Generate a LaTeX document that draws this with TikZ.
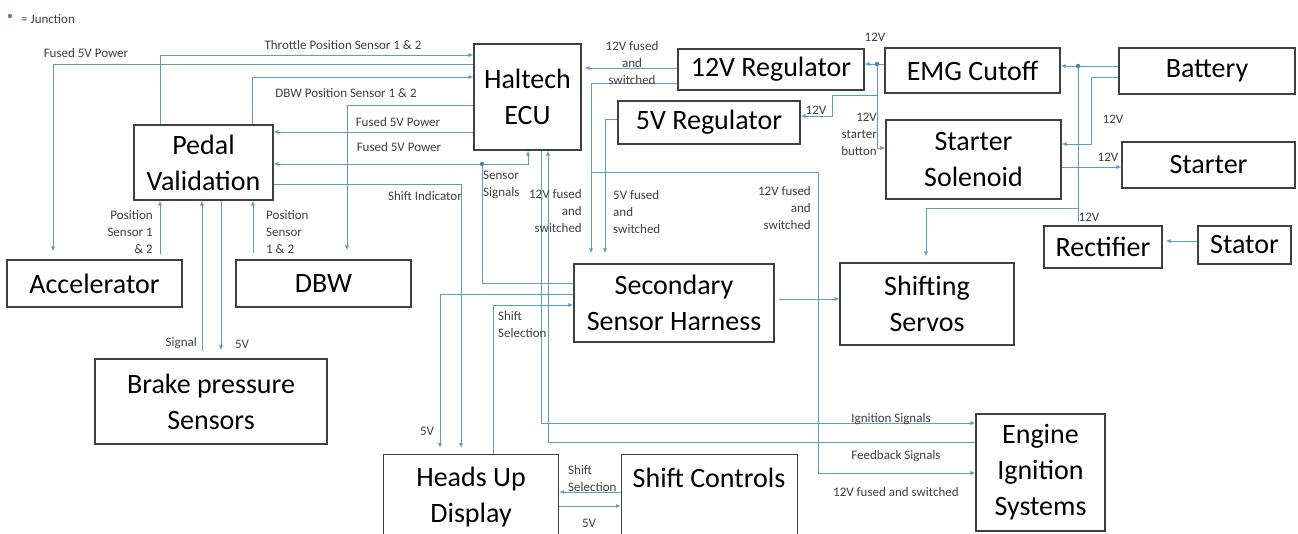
\documentclass[tikz,border=0pt]{standalone}
\usepackage{fontspec}
\setmainfont{Carlito}
\usetikzlibrary{arrows.meta}
\definecolor{wireblue}{HTML}{5B9BD5}
\definecolor{lblgray}{HTML}{404040}
\newcommand\boxfont{\fontsize{28}{36}\selectfont}
\newcommand\lblfont{\fontsize{13}{17}\selectfont}
\begin{document}
\begin{tikzpicture}[x=1pt,y=-1pt,
  blk/.style={draw=black!75, line width=1.1pt, align=center, font=\boxfont, inner sep=0pt},
  btxt/.style={font=\boxfont, inner sep=0pt, align=center},
  wln/.style={draw=wireblue, line width=0.9pt},
  arw/.style={wln, -{Latex[length=5pt,width=4pt]}},
  lt/.style={font=\lblfont, text=lblgray, inner sep=0pt, align=center},
  ltl/.style={lt, align=left, anchor=west},
  ltr/.style={lt, align=right, anchor=east},
  jn/.style={circle, fill=wireblue!85!black, inner sep=0pt, minimum size=4.5pt}]
\useasboundingbox (0,0) rectangle (1298,533);
\clip (0,0) rectangle (1298,533);
\fill[white] (0,0) rectangle (1298,533);

% boxes
\node[blk, minimum width=107pt, minimum height=106pt] (ecu) at (527.5,97) {Haltech\\ECU};
\node[blk, minimum width=186pt, minimum height=41pt] (reg12) at (771,69.5) {12V Regulator};
\node[blk, minimum width=182pt, minimum height=43pt] (reg5) at (709,122.5) {5V Regulator};
\node[blk, minimum width=175pt, minimum height=45pt] (emg) at (972.5,70.5) {EMG Cutoff};
\node[blk, minimum width=176pt, minimum height=46pt] (battery) at (1207,71) {Battery};
\node[blk, minimum width=175pt, minimum height=79pt] (solenoid) at (973.5,159.5) {Starter\\Solenoid};
\node[blk, minimum width=173pt, minimum height=46pt] (starter) at (1208.5,165) {Starter};
\node[blk, minimum width=118pt, minimum height=42pt] (rect) at (1103,247) {Rectifier};
\node[blk, minimum width=93pt, minimum height=38pt] (stator) at (1244.5,245) {Stator};
\node[blk, minimum width=174pt, minimum height=82pt] (servos) at (927,304) {Shifting\\Servos};
\node[blk, minimum width=139pt, minimum height=75pt] (pedal) at (203.5,162.5) {Pedal\\Validation};
\node[blk, minimum width=175pt, minimum height=47pt] (accel) at (94.5,283.5) {Accelerator};
\node[blk, minimum width=175pt, minimum height=47pt] (dbw) at (323.5,283.5) {DBW};
\node[blk, minimum width=200pt, minimum height=78pt] (ssh) at (674,303) {Secondary\\Sensor Harness};
\node[blk, minimum width=232pt, minimum height=85pt] (brake) at (211,401.5) {Brake pressure\\Sensors};
\node[blk, minimum width=175pt, minimum height=85pt, anchor=north west] (hud) at (383,454) {Heads Up\\Display};
\node[blk, minimum width=176pt, minimum height=100pt, anchor=north west] (shift) at (621,454) {};
\node[btxt] (shifttxt) at (709,478) {Shift Controls};
\node[blk, minimum width=129pt, minimum height=117pt] (engine) at (1040.5,472.5) {Engine\\Ignition\\Systems};

% bend / branch points
\coordinate (j1) at (482,164);
\coordinate (j2) at (877,64);
\coordinate (j3) at (1078,66);
\coordinate (b12) at (591,172);
\coordinate (b5) at (877,95);
\coordinate (bsv) at (1078,208);

% connectors
\draw[arw] (pedal.north -| 160,0) |- (ecu.west |- 0,55);
\draw[arw, shorten >=8pt] (ecu.west |- 0,64) -| (accel.north -| 53,0);
\draw[arw] (pedal.north -| 252,0) |- (ecu.west |- 0,77);
\draw[arw, shorten >=9pt] (ecu.west |- 0,105) -| (dbw.north -| 347,0);
\draw[arw] (ecu.west |- 0,132) -- (pedal.east |- 0,132);
\draw[arw] (ssh.west |- 0,283) -| (j1) -| (ecu.south -| 528,0);
\draw[arw] (j1) -- (pedal.east |- j1);
\draw[arw, shorten >=6pt] (pedal.east |- 0,184) -| (hud.north -| 461,0);
\draw[arw, shorten >=6pt] (ssh.west |- 0,294) -| (hud.north -| 440,0);
\draw[arw] (hud.north -| 493,0) |- (ssh.west |- 0,305);
\draw[arw] (ecu.south -| 541,0) |- (engine.west |- 0,423);
\draw[arw] (engine.west |- 0,442) -| (ecu.south -| 548,0);
\draw[arw, shorten >=3pt] (reg12.west |- 0,68) -- (ecu.east |- 0,68);
\draw[arw, shorten >=10pt] (reg12.west |- 0,83) -| (ssh.north -| 591,0);
\draw[arw] (b12) -| (818,473) -- (engine.west |- 0,473);
\draw[arw, shorten >=10pt] (reg5.west |- 0,119) -| (ssh.north -| 605,0);
\draw[arw] (emg.west |- 0,64) -- (reg12.east |- 0,64);
\draw[arw] (j2) |- (solenoid.west |- 0,148);
\draw[arw] (b5) -- (832,95) |- (reg5.east |- 0,116);
\draw[arw] (battery.west |- 0,66) -- (emg.east |- 0,66);
\draw[wln, shorten <=3pt] (rect.north -| j3) -- (j3);
\draw[arw, shorten >=6pt] (bsv) -| (servos.north -| 926,0);
\draw[arw] (battery.west |- 0,77) -| (1091,144) -- (solenoid.east |- 0,144);
\draw[arw] (solenoid.east |- 0,167) -- (starter.west |- 0,167);
\draw[arw, shorten >=3pt] (stator.west |- 0,241) -- (rect.east |- 0,241);
\draw[arw, shorten <=4pt] (ssh.east |- 0,299) -- (servos.west |- 0,299);
\draw[arw, shorten <=5pt] (accel.north -| 160,0) -- (pedal.south -| 160,0);
\draw[arw, shorten <=6pt] (dbw.north -| 253,0) -- (pedal.south -| 253,0);
\draw[arw, shorten <=7pt] (brake.north -| 202,0) -- (pedal.south -| 202,0);
\draw[arw, shorten >=8pt] (pedal.south -| 221,0) -- (brake.north -| 221,0);
\draw[arw] (shift.west |- 0,492) -- (hud.east |- 0,492);
\draw[arw] (hud.east |- 0,506) -- (shift.west |- 0,506);

% junction dots
\node[jn] (dot1) at (j1) {};
\node[jn] (dot2) at (j2) {};
\node[jn] (dot3) at (j3) {};

% legend
\node[jn] (legdot) at (10,16) {};
\node[ltl] (legtxt) at (21,19) {= Junction};

% labels
\node[lt] (l1) at (86,53) {Fused 5V Power};
\node[lt] (l2) at (343,45) {Throttle Position Sensor 1 \& 2};
\node[lt] (l3) at (346,93) {DBW Position Sensor 1 \& 2};
\node[lt] (l4) at (398,122) {Fused 5V Power};
\node[lt] (l5) at (399,147) {Fused 5V Power};
\node[lt] (l6) at (425,196) {Shift Indicator};
\node[ltl] (l7) at (483,185) {Sensor\\Signals};
\node[ltr] (l8) at (582,211) {12V fused\\and\\switched};
\node[ltl] (l9) at (613,212) {5V fused\\and\\switched};
\node[ltr] (l10) at (811,208) {12V fused\\and\\switched};
\node[lt] (l11) at (632,63) {12V fused\\and\\switched};
\node[lt] (l12) at (875,37) {12V};
\node[lt] (l13) at (816,110) {12V};
\node[ltr] (l14) at (877,134) {12V\\starter\\button};
\node[lt] (l15) at (1113,119) {12V};
\node[lt] (l16) at (1108,157) {12V};
\node[lt] (l17) at (1089,217) {12V};
\node[ltr] (l18) at (153,232) {Position\\Sensor 1\\\& 2};
\node[ltl] (l19) at (266,232) {Position\\Sensor\\1 \& 2};
\node[ltr] (l20) at (197,343) {Signal};
\node[lt] (l21) at (242,344) {5V};
\node[lt] (l22) at (427,431) {5V};
\node[ltl] (l23) at (498,325) {Shift\\Selection};
\node[ltl] (l24) at (568,479) {Shift\\Selection};
\node[lt] (l25) at (589,523) {5V};
\node[lt] (l26) at (891,419) {Ignition Signals};
\node[lt] (l27) at (896,456) {Feedback Signals};
\node[lt] (l28) at (896,492) {12V fused and switched};
\end{tikzpicture}
\end{document}
